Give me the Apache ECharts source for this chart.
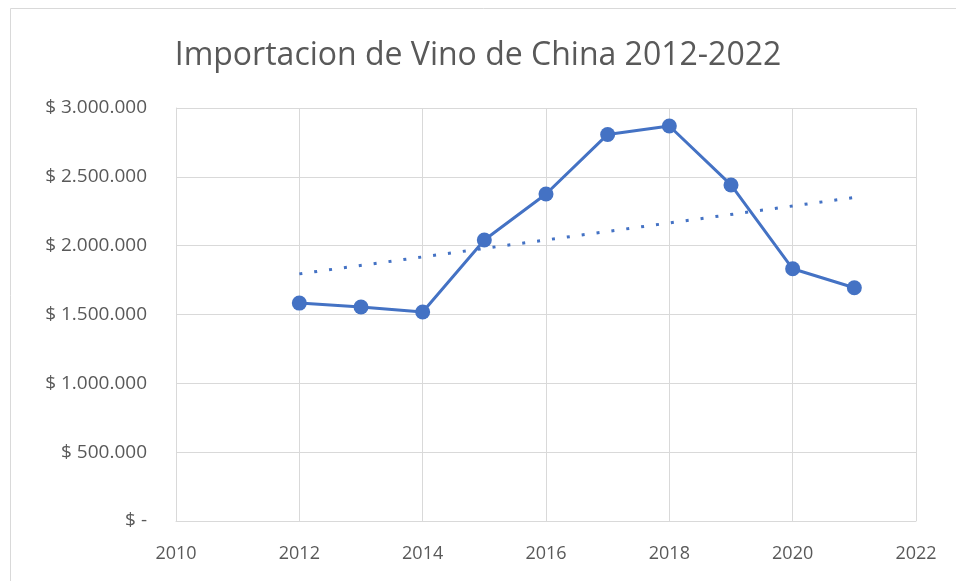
<!DOCTYPE html>
<html>
<head>
<meta charset="utf-8">
<script src="https://cdn.jsdelivr.net/npm/echarts@6/dist/echarts.min.js"></script>
<style>
  html, body { margin: 0; padding: 0; background: #fff; }
  #chart { width: 956px; height: 581px; }
</style>
</head>
<body>
<div id="chart"></div>
<script>
  // datos
  var years = [2012, 2013, 2014, 2015, 2016, 2017, 2018, 2019, 2020, 2021]
  var imports = [1583000, 1554000, 1518000, 2041000, 2375000, 2808000, 2869000, 2441000, 1832000, 1694000]
  var trendYears = [2012, 2021]
  var trendValues = [1795000, 2350000]

  function money(v) {
    if (v === 0) return '$ -'
    return '$ ' + String(v).replace(/\B(?=(\d{3})+(?!\d))/g, '.')
  }

  var chart = echarts.init(document.getElementById('chart'))
  var font = 'Open Sans'
  var grey = '#d9d9d9'

  chart.setOption({
    animation: false,
    title: {
      text: 'Importacion de Vino de China 2012-2022',
      left: 'center',
      top: 35,
      textStyle: { fontFamily: font, fontSize: 32, fontWeight: 'normal', color: '#595959' }
    },
    graphic: [{
      type: 'rect',
      shape: { x: 10.5, y: 8.5, width: 1000, height: 700 },
      style: { fill: null, stroke: grey, lineWidth: 1 },
      silent: true
    }],
    grid: { left: 176, right: 40, top: 108, bottom: 60, containLabel: false },
    xAxis: {
      type: 'value',
      min: 2010,
      max: 2022,
      interval: 2,
      axisLine: { show: true, lineStyle: { color: grey } },
      axisTick: { show: false },
      splitLine: { show: true, lineStyle: { color: grey } },
      axisLabel: {
        margin: 24, fontFamily: font, fontSize: 18, color: '#595959',
        formatter: function (v) { return String(v) }
      }
    },
    yAxis: {
      type: 'value',
      min: 0,
      max: 3000000,
      interval: 500000,
      axisLine: { show: true, lineStyle: { color: grey } },
      axisTick: { show: false },
      splitLine: { show: true, lineStyle: { color: grey } },
      axisLabel: { margin: 29, fontFamily: font, fontSize: 19, color: '#595959', formatter: money }
    },
    series: [{
      name: 'Importacion',
      type: 'line',
      data: years.map(function (y, i) { return [y, imports[i]] }),
      symbol: 'circle',
      symbolSize: 15,
      itemStyle: { color: '#4472C4' },
      lineStyle: { color: '#4472C4', width: 3 },
      z: 3
    }, {
      name: 'Tendencia',
      type: 'line',
      data: trendYears.map(function (y, i) { return [y, trendValues[i]] }),
      symbol: 'none',
      lineStyle: { color: '#4472C4', width: 3, type: [3, 12], cap: 'butt' },
      z: 2
    }]
  })
</script>
</body>
</html>
